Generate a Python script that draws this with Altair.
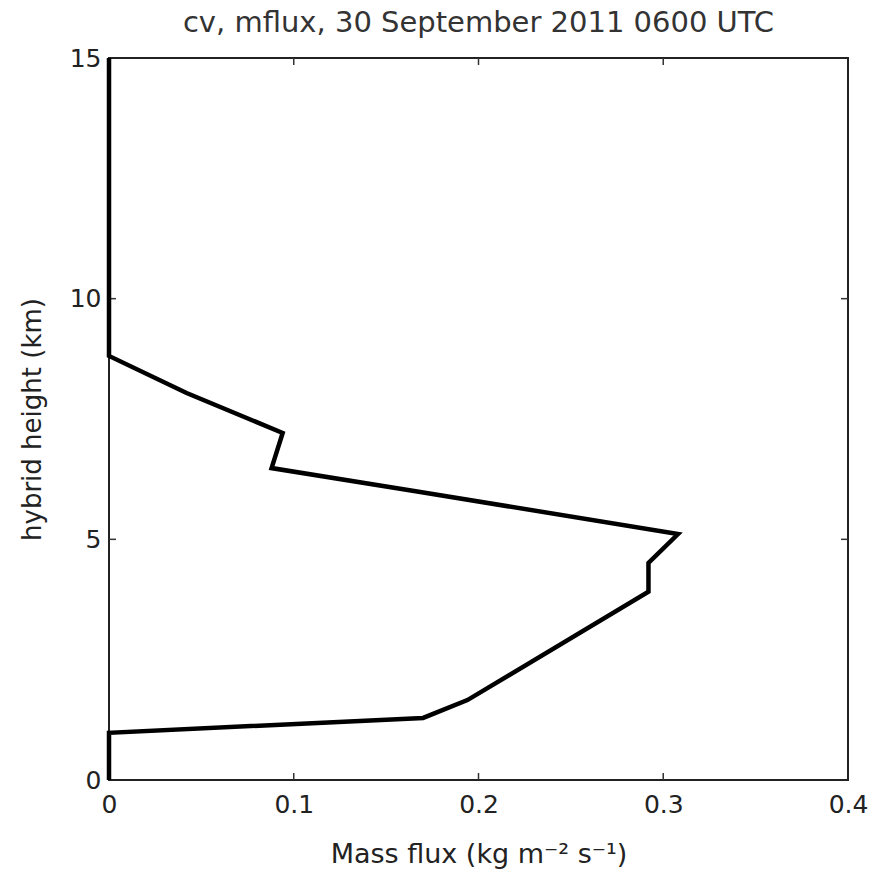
import altair as alt
import pandas as pd

# Profile values (mass flux vs hybrid height)
mass_flux = [0.0, 0.0, 0.042, 0.094, 0.088, 0.166, 0.308, 0.292, 0.292, 0.194, 0.170, 0.0, 0.0]
height_km = [15.0, 8.81, 8.04, 7.21, 6.48, 6.0, 5.11, 4.51, 3.91, 1.66, 1.29, 0.98, 0.0]

x_ticks = [0, 0.1, 0.2, 0.3, 0.4]
y_ticks = [0, 5, 10, 15]

W, H = 739, 722
FONT = "DejaVu Sans"
TXT = "#222222"

df = pd.DataFrame({"flux": mass_flux, "z": height_km, "i": list(range(len(mass_flux)))})
dx = pd.DataFrame({"t": x_ticks[1:-1]})
dy = pd.DataFrame({"t": y_ticks[1:-1]})

xscale = alt.Scale(domain=[0, 0.4], nice=False, zero=False)
yscale = alt.Scale(domain=[0, 15], nice=False, zero=False)

xaxis = alt.Axis(values=x_ticks, format="~g", title="Mass flux (kg m⁻² s⁻¹)",
                 grid=False, ticks=False, domain=False, labelFont=FONT, labelFontSize=25,
                 labelColor=TXT, labelPadding=12, titleFont=FONT, titleFontSize=27,
                 titleFontWeight="normal", titleColor=TXT, titlePadding=24, labelFlush=False)
yaxis = alt.Axis(values=y_ticks, format="~g", title="hybrid height (km)",
                 grid=False, ticks=False, domain=False, labelFont=FONT, labelFontSize=25,
                 labelColor=TXT, labelPadding=8, titleFont=FONT, titleFontSize=26,
                 titleFontWeight="normal", titleColor=TXT, titlePadding=24, labelFlush=False)

line = alt.Chart(df).mark_line(color="black", strokeWidth=4.5, strokeJoin="miter").encode(
    x=alt.X("flux:Q", scale=xscale, axis=xaxis),
    y=alt.Y("z:Q", scale=yscale, axis=yaxis),
    order="i:Q",
)

tick_style = dict(color="#333333", strokeWidth=1.5)
xb = alt.Chart(dx).mark_rule(**tick_style).encode(
    x=alt.X("t:Q", scale=xscale), y=alt.value(H), y2=alt.value(H - 7))
xt = alt.Chart(dx).mark_rule(**tick_style).encode(
    x=alt.X("t:Q", scale=xscale), y=alt.value(0), y2=alt.value(7))
yl = alt.Chart(dy).mark_rule(**tick_style).encode(
    y=alt.Y("t:Q", scale=yscale), x=alt.value(0), x2=alt.value(7))
yr = alt.Chart(dy).mark_rule(**tick_style).encode(
    y=alt.Y("t:Q", scale=yscale), x=alt.value(W), x2=alt.value(W - 7))

chart = alt.layer(xb, xt, yl, yr, line).properties(
    width=W, height=H,
    title=alt.TitleParams("cv, mflux, 30 September 2011 0600 UTC", font=FONT, fontSize=29,
                          fontWeight="normal", color="#333333", offset=8, anchor="middle"),
    autosize=alt.AutoSizeParams(type="none"),
    padding={"left": 109, "top": 58, "right": 26, "bottom": 91},
).configure(background="white").configure_view(stroke="#222222", strokeWidth=2)

chart.save("out.html", embed_options={"renderer": "svg", "actions": False})
